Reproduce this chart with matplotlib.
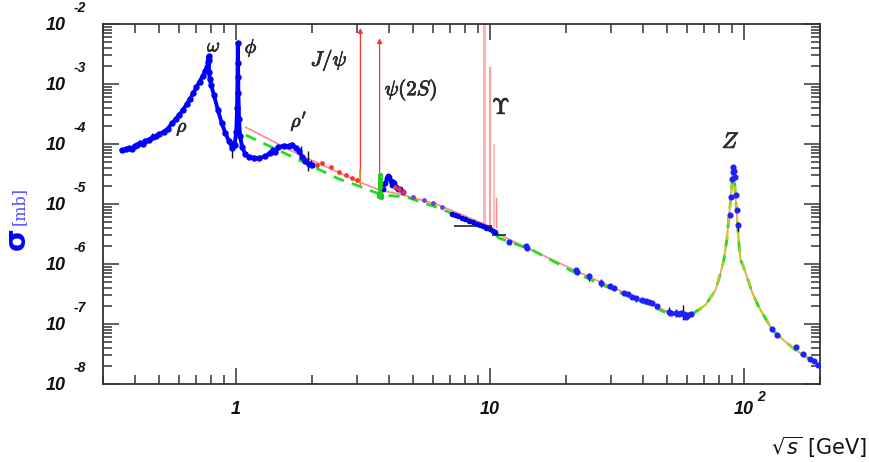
import matplotlib
matplotlib.use('Agg')
import matplotlib.pyplot as plt
import matplotlib.patheffects as pe
from matplotlib.ticker import LogLocator, NullFormatter, FixedLocator, FixedFormatter

plt.rcParams['mathtext.fontset'] = 'cm'

# ---------------- data ----------------
# low-energy hadronic data (rho, omega, phi, rho')
low_E = [0.356, 0.37, 0.38, 0.39, 0.40, 0.41, 0.42, 0.43, 0.44, 0.455, 0.47, 0.485,
         0.50, 0.52, 0.54, 0.56, 0.58, 0.60, 0.62, 0.64, 0.66, 0.68, 0.70, 0.72,
         0.74, 0.76, 0.772, 0.778, 0.781, 0.783, 0.785, 0.79, 0.80, 0.82, 0.85,
         0.88, 0.91, 0.94, 0.97, 0.99, 1.005, 1.012, 1.016, 1.019, 1.021, 1.024,
         1.03, 1.04, 1.06, 1.09, 1.13, 1.18, 1.24, 1.30, 1.36, 1.40, 1.43, 1.47,
         1.55, 1.62, 1.66, 1.72, 1.78, 1.83, 1.88, 1.94, 2.0]
low_sig = [7.8e-5, 8.2e-5, 8.6e-5, 8.4e-5, 9.4e-5, 9.6e-5, 1.03e-4, 1.0e-4, 1.12e-4,
           1.18e-4, 1.3e-4, 1.35e-4, 1.45e-4, 1.6e-4, 1.8e-4, 2.2e-4, 2.6e-4, 3.1e-4,
           3.7e-4, 4.6e-4, 5.6e-4, 7.0e-4, 8.8e-4, 1.1e-3, 1.35e-3, 1.65e-3, 1.95e-3,
           2.3e-3, 2.9e-3, 2.5e-3, 1.6e-3, 1.2e-3, 9.5e-4, 6.6e-4, 3.7e-4, 2.24e-4,
           1.52e-4, 1.12e-4, 8.5e-5, 9.8e-5, 1.6e-4, 4.0e-4, 1.3e-3, 4.8e-3, 2.2e-3,
           7.0e-4, 2.6e-4, 1.35e-4, 8.8e-5, 6.8e-5, 6.1e-5, 5.9e-5, 5.8e-5, 6.2e-5,
           7.0e-5, 7.9e-5, 7.3e-5, 8.8e-5, 9.4e-5, 9.2e-5, 9.8e-5, 8.6e-5, 7.5e-5,
           6.0e-5, 5.2e-5, 4.7e-5, 4.4e-5]

# charm region data
charm_E = [3.75, 3.80, 3.87, 3.93, 3.98, 4.03, 4.08, 4.12, 4.16, 4.20, 4.26, 4.35, 4.45, 4.55]
charm_sig = [1.9e-5, 1.8e-5, 2.2e-5, 2.7e-5, 2.9e-5, 2.8e-5, 2.4e-5, 2.1e-5, 2.35e-5,
             2.2e-5, 1.95e-5, 1.8e-5, 1.75e-5, 1.6e-5]

# continuum 5-10.5 GeV
mid_E = [5.0, 5.5, 6.0, 6.5, 7.1, 7.3, 7.5, 7.8, 8.0, 8.3, 8.6, 8.9, 9.2, 9.4, 9.7, 10.0, 10.3, 10.5]
mid_sig = [1.3e-5, 1.15e-5, 1.02e-5, 8.8e-6, 6.8e-6, 6.5e-6, 6.2e-6, 5.8e-6, 5.6e-6, 5.3e-6,
           5.0e-6, 4.7e-6, 4.4e-6, 4.3e-6, 4.0e-6, 3.8e-6, 3.6e-6, 3.4e-6]

# high-energy data (PETRA, TRISTAN, LEP)
high_E = [11.9, 13.9, 14.0, 21.8, 22.0, 24.6, 27.4, 29.9, 30.8, 33.8, 35.0, 36.4, 37.6,
          39.8, 41.1, 42.5, 43.6, 45.7, 50.8, 52.0, 54.3, 55.5, 56.9, 58.2, 59.2, 60.5,
          61.9, 88.2, 89.2, 90.2, 90.7, 91.2, 91.3, 92.2, 93.2, 94.2, 95.0, 130, 136,
          161, 172, 183, 189, 196]
high_sig = [2.35e-6, 2.0e-6, 1.85e-6, 7.9e-7, 7.4e-7, 6.3e-7, 4.9e-7, 4.3e-7, 4.0e-7,
            3.3e-7, 3.15e-7, 2.85e-7, 2.75e-7, 2.5e-7, 2.4e-7, 2.3e-7, 2.2e-7, 2.0e-7,
            1.57e-7, 1.55e-7, 1.51e-7, 1.45e-7, 1.5e-7, 1.47e-7, 1.3e-7, 1.4e-7, 1.47e-7,
            6.5e-6, 1.3e-5, 2.6e-5, 3.4e-5, 4.1e-5, 3.6e-5, 2.8e-5, 1.4e-5, 8.0e-6,
            4.5e-6, 8.3e-8, 6.6e-8, 4.2e-8, 3.2e-8, 2.6e-8, 2.4e-8, 2.1e-8]

# error bars (energy, low, high)
err_E = [0.468, 0.97, 1.80, 1.92, 1.97, 24.6, 27.4, 37.6, 50.8, 54.3, 57.5, 59.5, 95.0]
err_lo = [1.15e-4, 5.8e-5, 6.6e-5, 3.5e-5, 4.0e-5, 5.3e-7, 4.2e-7, 2.35e-7, 1.37e-7,
          1.3e-7, 1.16e-7, 1.2e-7, 3.6e-6]
err_hi = [1.5e-4, 1.12e-4, 9.1e-5, 7.5e-5, 5.5e-5, 7.1e-7, 5.6e-7, 2.9e-7, 1.9e-7,
          1.8e-7, 2.07e-7, 1.6e-7, 5.0e-6]

# red data points 2-3 GeV and on the charm bump
red_E = [2.09, 2.19, 2.37, 2.55, 2.71, 2.87, 3.00, 4.25, 4.40, 4.55]
red_sig = [4.47e-5, 4.77e-5, 4.14e-5, 3.46e-5, 3.04e-5, 2.68e-5, 2.51e-5, 1.9e-5, 1.75e-5, 1.6e-5]

# green points at psi(2S)
grn_E = [3.66, 3.68, 3.69, 3.695, 3.70, 3.705, 3.71, 3.72, 3.74]
grn_sig = [1.35e-5, 1.4e-5, 1.9e-5, 2.6e-5, 3.0e-5, 2.2e-5, 1.5e-5, 1.3e-5, 1.4e-5]

# theory curves
th_E = [1.095, 1.775, 2.33, 3.00, 3.67, 4.39, 6.15, 9.94, 10.88, 21.8, 30.4, 41.1, 50.8,
        58.2, 62.8, 70.8, 77.6, 81.0, 83.6, 86.0, 87.5, 88.5, 89.5, 90.3, 91.2, 92.0,
        92.8, 93.5, 94.5, 96.0, 97.3, 100.0, 108.4, 115.0, 129.7, 145.0, 160.0, 175.0, 200.0]
th_red = [1.90e-4, 6.63e-5, 3.98e-5, 2.42e-5, 1.71e-5, 1.47e-5, 1.0e-5, 4.3e-6, 3.1e-6,
          7.73e-7, 4.09e-7, 2.35e-7, 1.57e-7, 1.47e-7, 1.51e-7, 2.07e-7, 3.69e-7, 6.8e-7,
          1.17e-6, 2.6e-6, 6.1e-6, 9.5e-6, 1.6e-5, 2.8e-5, 4.2e-5, 3.0e-5, 1.4e-5, 9.3e-6,
          5.0e-6, 2.0e-6, 1.17e-6, 9.0e-7, 3.25e-7, 1.9e-7, 7.94e-8, 5.2e-8, 3.69e-8,
          2.9e-8, 2.0e-8]
th_grn_E = [1.095, 1.775, 2.55, 2.98, 3.77, 4.68, 6.15, 9.94, 10.88, 14.7, 21.8, 30.3,
            41.1, 50.8, 62.8, 70.8, 77.6, 81.0, 83.6, 86.0, 87.5, 88.5, 89.5, 90.3, 91.2,
            92.0, 92.8, 93.5, 94.5, 96.0, 97.3, 100.0, 108.4, 115.0, 129.7, 145.0, 160.0,
            175.0, 200.0]
th_grn = [1.41e-4, 5.41e-5, 2.61e-5, 2.07e-5, 1.41e-5, 1.31e-5, 8.9e-6, 3.98e-6, 2.71e-6,
          1.71e-6, 7.08e-7, 3.83e-7, 2.2e-7, 1.47e-7, 1.45e-7, 2.07e-7, 3.69e-7, 6.8e-7,
          1.17e-6, 2.6e-6, 6.1e-6, 9.5e-6, 1.6e-5, 2.8e-5, 4.2e-5, 3.0e-5, 1.4e-5, 9.3e-6,
          5.0e-6, 2.0e-6, 1.17e-6, 9.0e-7, 3.25e-7, 1.9e-7, 7.94e-8, 5.2e-8, 3.69e-8,
          2.9e-8, 2.0e-8]
zy_E = [58.2, 62.8, 70.8, 77.6, 81.0, 83.6, 86.0, 87.5, 88.5, 89.5, 90.3, 91.2, 92.0,
        92.8, 93.5, 94.5, 96.0, 97.3, 100.0, 108.4, 115.0, 129.7, 145.0, 160.0, 175.0, 200.0]
zy_sig = [1.47e-7, 1.51e-7, 2.07e-7, 3.69e-7, 6.8e-7, 1.17e-6, 2.6e-6, 6.1e-6, 9.5e-6,
          1.6e-5, 2.8e-5, 4.2e-5, 3.0e-5, 1.4e-5, 9.3e-6, 5.0e-6, 2.0e-6, 1.17e-6, 9.0e-7,
          3.25e-7, 1.9e-7, 7.94e-8, 5.2e-8, 3.69e-8, 2.9e-8, 2.0e-8]

# narrow resonances (energy, bottom, top)
psi_E = [3.097, 3.686]
psi_lo = [2.1e-5, 1.5e-5]
psi_hi = [8.6e-3, 5.8e-3]
ups_E = [9.46, 10.02, 10.36, 10.58]
ups_lo = [4.3e-6, 4.2e-6, 4.2e-6, 4.2e-6]
ups_hi = [1.0e-2, 1.83e-3, 9.6e-5, 1.26e-5]
ups_col = ['#ffb4b4', '#ffa0a0', '#ffc0c0', '#ff8080']
ups_lw = [2.2, 1.5, 1.5, 1.0]

# black horizontal segments
seg_y = [4.35e-6, 3.04e-6]
seg_x0 = [7.24, 10.24]
seg_x1 = [10.24, 11.56]

# resonance labels
lab_txt = [r'$\omega$', r'$\phi$', r'$\rho$', r"$\rho'$", r'$J/\psi$', r'$\psi(2S)$', r'$\Upsilon$', r'$Z$']
lab_E = [0.821, 1.15, 0.615, 1.775, 2.33, 4.9, 11.1, 89.1]
lab_sig = [4.3e-3, 4.0e-3, 1.85e-4, 2.4e-4, 2.5e-3, 7.9e-4, 4.0e-4, 1.08e-4]
lab_size = [14, 14, 14, 14, 15, 15, 16, 16]

xtick_vals = [1, 10, 100]
xtick_base = ['1', '10', '10']
xtick_exp = ['', '', '2']
ytick_vals = [1e-8, 1e-7, 1e-6, 1e-5, 1e-4, 1e-3, 1e-2]
ytick_exp = ['-8', '-7', '-6', '-5', '-4', '-3', '-2']

# ---------------- figure ----------------
fig = plt.figure(figsize=(8.7, 4.62), dpi=100)
ax = fig.add_axes([103/870, 78/462, 717/870, 360/462])
ax.set_xscale('log')
ax.set_yscale('log')
ax.set_xlim(0.3, 200)
ax.set_ylim(1e-8, 1e-2)

# theory lines
ax.plot(th_E, th_red, color='#ff8a8a', lw=1.2, zorder=3)
ax.plot(th_grn_E, th_grn, color='#22dd22', lw=2.0, ls=(0, (4, 3)), zorder=3)
ax.plot(zy_E, zy_sig, color='#c8c820', lw=1.4, ls=(0, (5, 3)), zorder=3)

# narrow resonances
for e, lo, hi in zip(psi_E, psi_lo, psi_hi):
    ax.annotate('', xy=(e, hi), xytext=(e, lo),
                arrowprops=dict(arrowstyle='-|>', color='#ff3030', lw=0.9,
                                mutation_scale=7, shrinkA=0, shrinkB=0), zorder=2)
ax.plot([3.097, 3.097], [2.2e-5, 3.7e-5], color='#d8a000', lw=1.2, zorder=2)
for e, lo, hi, c, w in zip(ups_E, ups_lo, ups_hi, ups_col, ups_lw):
    ax.plot([e, e], [lo, hi], color=c, lw=w, zorder=2)

ax.hlines(seg_y, seg_x0, seg_x1, color='#222222', lw=1.2, zorder=4)

# error bars
ax.vlines(err_E, err_lo, err_hi, color='#111111', lw=1.0, zorder=5)

# data points
ax.plot(low_E, low_sig, color='#0000ff', lw=2.8, marker='o', ms=3.6, zorder=6)
ax.plot(charm_E, charm_sig, color='#0000ee', lw=2.0, marker='o', ms=3.2, zorder=6)
ax.plot(mid_E[4:], mid_sig[4:], color='#0000ee', lw=2.2, marker='o', ms=3.0, zorder=6)
ax.plot(mid_E[:4], mid_sig[:4], ls='none', color='#7a40d0', marker='o', ms=2.5, zorder=6)
ax.plot(high_E, high_sig, ls='none', color='#2020ff', marker='o', ms=3.4, zorder=6)
ax.plot(red_E, red_sig, ls='none', color='#ff3030', marker='o', ms=2.4, zorder=6)
ax.plot(grn_E, grn_sig, color='#22cc22', lw=2.0, marker='o', ms=2.8, zorder=7)

# labels
for t, e, s, fs in zip(lab_txt, lab_E, lab_sig, lab_size):
    ax.text(e, s, t, fontsize=fs, color='#2a2a2a', ha='center', va='center', zorder=8,
            path_effects=[pe.withStroke(linewidth=0.6, foreground='#2a2a2a')])

# ticks
for sp in ax.spines.values():
    sp.set_color('#333333')
    sp.set_linewidth(1.3)
ax.xaxis.set_major_locator(FixedLocator(xtick_vals))
ax.xaxis.set_major_formatter(FixedFormatter(xtick_base))
ax.yaxis.set_major_locator(FixedLocator(ytick_vals))
ax.yaxis.set_major_formatter(FixedFormatter(['10'] * len(ytick_vals)))
ax.xaxis.set_minor_locator(LogLocator(base=10, subs=[2, 3, 4, 5, 6, 7, 8, 9], numticks=30))
ax.yaxis.set_minor_locator(LogLocator(base=10, subs=[2, 3, 4, 5, 6, 7, 8, 9], numticks=30))
ax.xaxis.set_minor_formatter(NullFormatter())
ax.yaxis.set_minor_formatter(NullFormatter())
ax.tick_params(which='both', direction='in', top=True, right=True, colors='#333333', width=1.1)
ax.tick_params(which='major', length=11.5)
ax.tick_params(which='minor', length=6.5)
ax.tick_params(axis='y', which='major', pad=26.5)
ax.tick_params(axis='x', which='major', pad=12)
tfont = dict(family='Liberation Sans', weight='bold', style='italic')
for lab in ax.get_xticklabels() + ax.get_yticklabels():
    lab.set_fontfamily('Liberation Sans')
    lab.set_fontweight('bold')
    lab.set_fontstyle('italic')
    lab.set_fontsize(13)
    lab.set_color('#111111')

for v, ex in zip(ytick_vals, ytick_exp):
    ax.annotate(ex, xy=(0, v), xycoords=('axes fraction', 'data'), xytext=(-29, 16),
                textcoords='offset pixels', ha='left', va='center', fontsize=10,
                color='#111111', annotation_clip=False, **tfont)
for v, ex in zip(xtick_vals, xtick_exp):
    if ex:
        ax.annotate(ex, xy=(v, 0), xycoords=('data', 'axes fraction'), xytext=(13.5, -13),
                    textcoords='offset pixels', ha='left', va='center', fontsize=10,
                    color='#111111', annotation_clip=False, **tfont)

# axis titles
fig.text(867/870, 1 - 447/462, r'$\sqrt{s}$ [GeV]', ha='right', va='center', fontsize=15,
         family='DejaVu Sans', math_fontfamily='dejavusans', color='#111111')
fig.text(16.5/870, 1 - 238.5/462, 'σ', rotation=90, ha='center', va='center',
         fontsize=21, fontweight='bold', color='#0000ff', family='DejaVu Sans')
fig.text(19/870, 1 - 206/462, '[mb]', rotation=90, ha='center', va='center',
         fontsize=11.5, color='#4a4aff', family='DejaVu Serif')

fig.savefig('out.png', dpi=100, facecolor='white')
